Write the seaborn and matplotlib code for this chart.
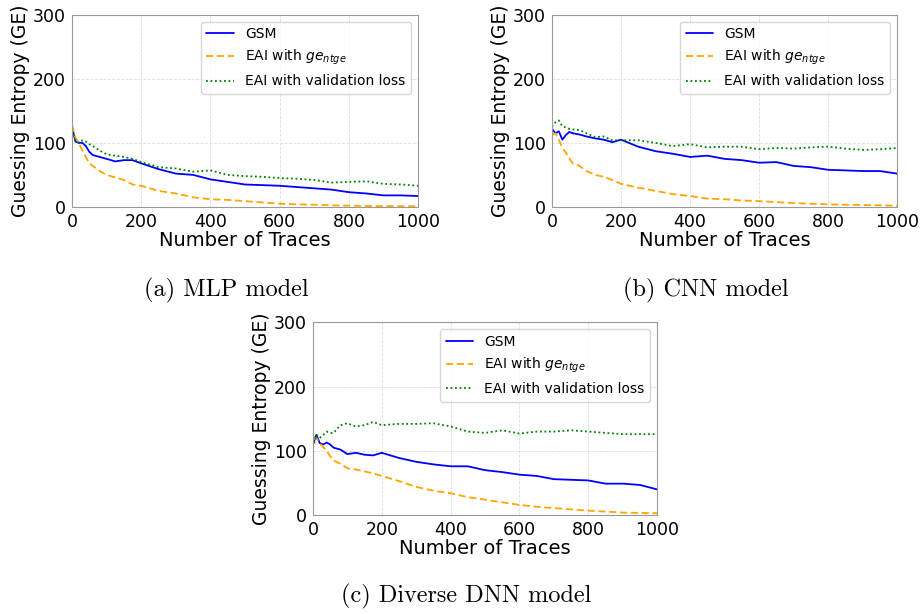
import numpy as np
import pandas as pd
import matplotlib
matplotlib.use('Agg')
import matplotlib.pyplot as plt
import seaborn as sns

# 横坐标：攻击曲线采样点
traces = [0, 10, 20, 30, 40, 50, 60, 80, 100, 125, 150, 175, 200, 250, 300,
          350, 400, 450, 500, 550, 600, 650, 700, 750, 800, 850, 900, 950, 1000]

# (a) MLP
mlp_gsm = [125, 102, 100, 100, 95, 86, 81, 78, 75, 71, 73, 73, 68, 59, 52,
           50, 43, 39, 35, 34, 33, 31, 29, 27, 23, 21, 18, 18, 17]
mlp_ge = [128, 108, 100, 88, 78, 68, 64, 56, 50, 46, 42, 35, 33, 25, 21,
          15, 12, 11, 9, 7, 5, 4, 3.5, 2.5, 2, 1.5, 1.2, 1, 1]
mlp_val = [120, 104, 100, 104, 102, 98, 95, 88, 82, 80, 78, 75, 70, 62, 60,
           55, 57, 50, 48, 47, 45, 44, 42, 38, 39, 40, 36, 35, 33]

# (b) CNN
cnn_gsm = [122, 115, 118, 105, 112, 117, 115, 113, 110, 107, 105, 101, 105, 94, 87,
           83, 78, 80, 75, 73, 69, 70, 64, 62, 58, 57, 56, 56, 52]
cnn_ge = [112, 115, 105, 92, 85, 76, 68, 64, 56, 50, 47, 42, 36, 30, 25,
          20, 17, 13, 12, 10, 9, 7.5, 6, 5, 4, 3.5, 3, 2.5, 2]
cnn_val = [125, 132, 135, 126, 124, 122, 121, 120, 115, 109, 110, 104, 104, 104, 100,
           95, 98, 93, 94, 94, 90, 92, 91, 93, 94, 91, 89, 90, 92]

# (c) Diverse DNN
dnn_gsm = [110, 125, 112, 110, 113, 110, 105, 102, 95, 97, 94, 93, 97, 89, 83,
           79, 76, 76, 70, 67, 63, 61, 56, 55, 54, 49, 49, 47, 40]
dnn_ge = [118, 120, 112, 106, 100, 92, 85, 80, 73, 71, 68, 65, 61, 53, 44,
          38, 34, 28, 24, 20, 16, 13, 11, 9, 7, 5.5, 4, 3.5, 3]
dnn_val = [105, 125, 120, 125, 130, 128, 128, 140, 143, 138, 140, 145, 140, 142, 142,
           143, 138, 130, 128, 132, 127, 130, 130, 132, 130, 128, 126, 126, 126]

labels = ['GSM', 'EAI with $ge_{ntge}$', 'EAI with validation loss']
panels = [
    ('(a) MLP model', mlp_gsm, mlp_ge, mlp_val),
    ('(b) CNN model', cnn_gsm, cnn_ge, cnn_val),
    ('(c) Diverse DNN model', dnn_gsm, dnn_ge, dnn_val),
]

sns.set_style('whitegrid')
plt.rcParams['font.family'] = ['DejaVu Sans']
plt.rcParams['mathtext.fontset'] = 'dejavusans'
for k in ['text.color', 'axes.labelcolor', 'xtick.color', 'ytick.color']:
    plt.rcParams[k] = 'black'

fig = plt.figure(figsize=(9.23, 6.14), dpi=100)
ax_rects = [
    [0.078, 0.663, 0.375, 0.313],
    [0.598, 0.663, 0.374, 0.313],
    [0.339, 0.161, 0.373, 0.314],
]
caption_pos = [(0.245, 0.527), (0.765, 0.527), (0.505, 0.028)]

palette = {labels[0]: 'blue', labels[1]: 'orange', labels[2]: 'green'}
dashes = {labels[0]: '', labels[1]: (4, 2), labels[2]: (1, 1.5)}

for rect, (cap, gsm, ge, val), cpos in zip(ax_rects, panels, caption_pos):
    ax = fig.add_axes(rect)
    df = pd.DataFrame({
        'trace': traces * 3,
        'ge': gsm + ge + val,
        'method': [labels[0]] * len(traces) + [labels[1]] * len(traces) + [labels[2]] * len(traces),
    })
    sns.lineplot(data=df, x='trace', y='ge', hue='method', style='method',
                 palette=palette, dashes=dashes, linewidth=1.3, ax=ax)
    ax.set_xlim(0, 1000)
    ax.set_ylim(0, 300)
    ax.set_xticks([0, 200, 400, 600, 800, 1000])
    ax.set_yticks([0, 100, 200, 300])
    ax.tick_params(labelsize=12.5, pad=1)
    ax.set_xlabel('Number of Traces', fontsize=14, labelpad=0)
    ax.set_ylabel('Guessing Entropy (GE)', fontsize=13.5, labelpad=2)
    ax.grid(True, linestyle='--', linewidth=0.6, color='#dddddd')
    for s in ax.spines.values():
        s.set_color('#999999')
    leg = ax.legend(loc='upper right', fontsize=10, title=None, frameon=True)
    fig.text(cpos[0], cpos[1], cap, ha='center', va='center',
             fontsize=17.5, family='cmr10')

plt.savefig('out.png', dpi=100)
